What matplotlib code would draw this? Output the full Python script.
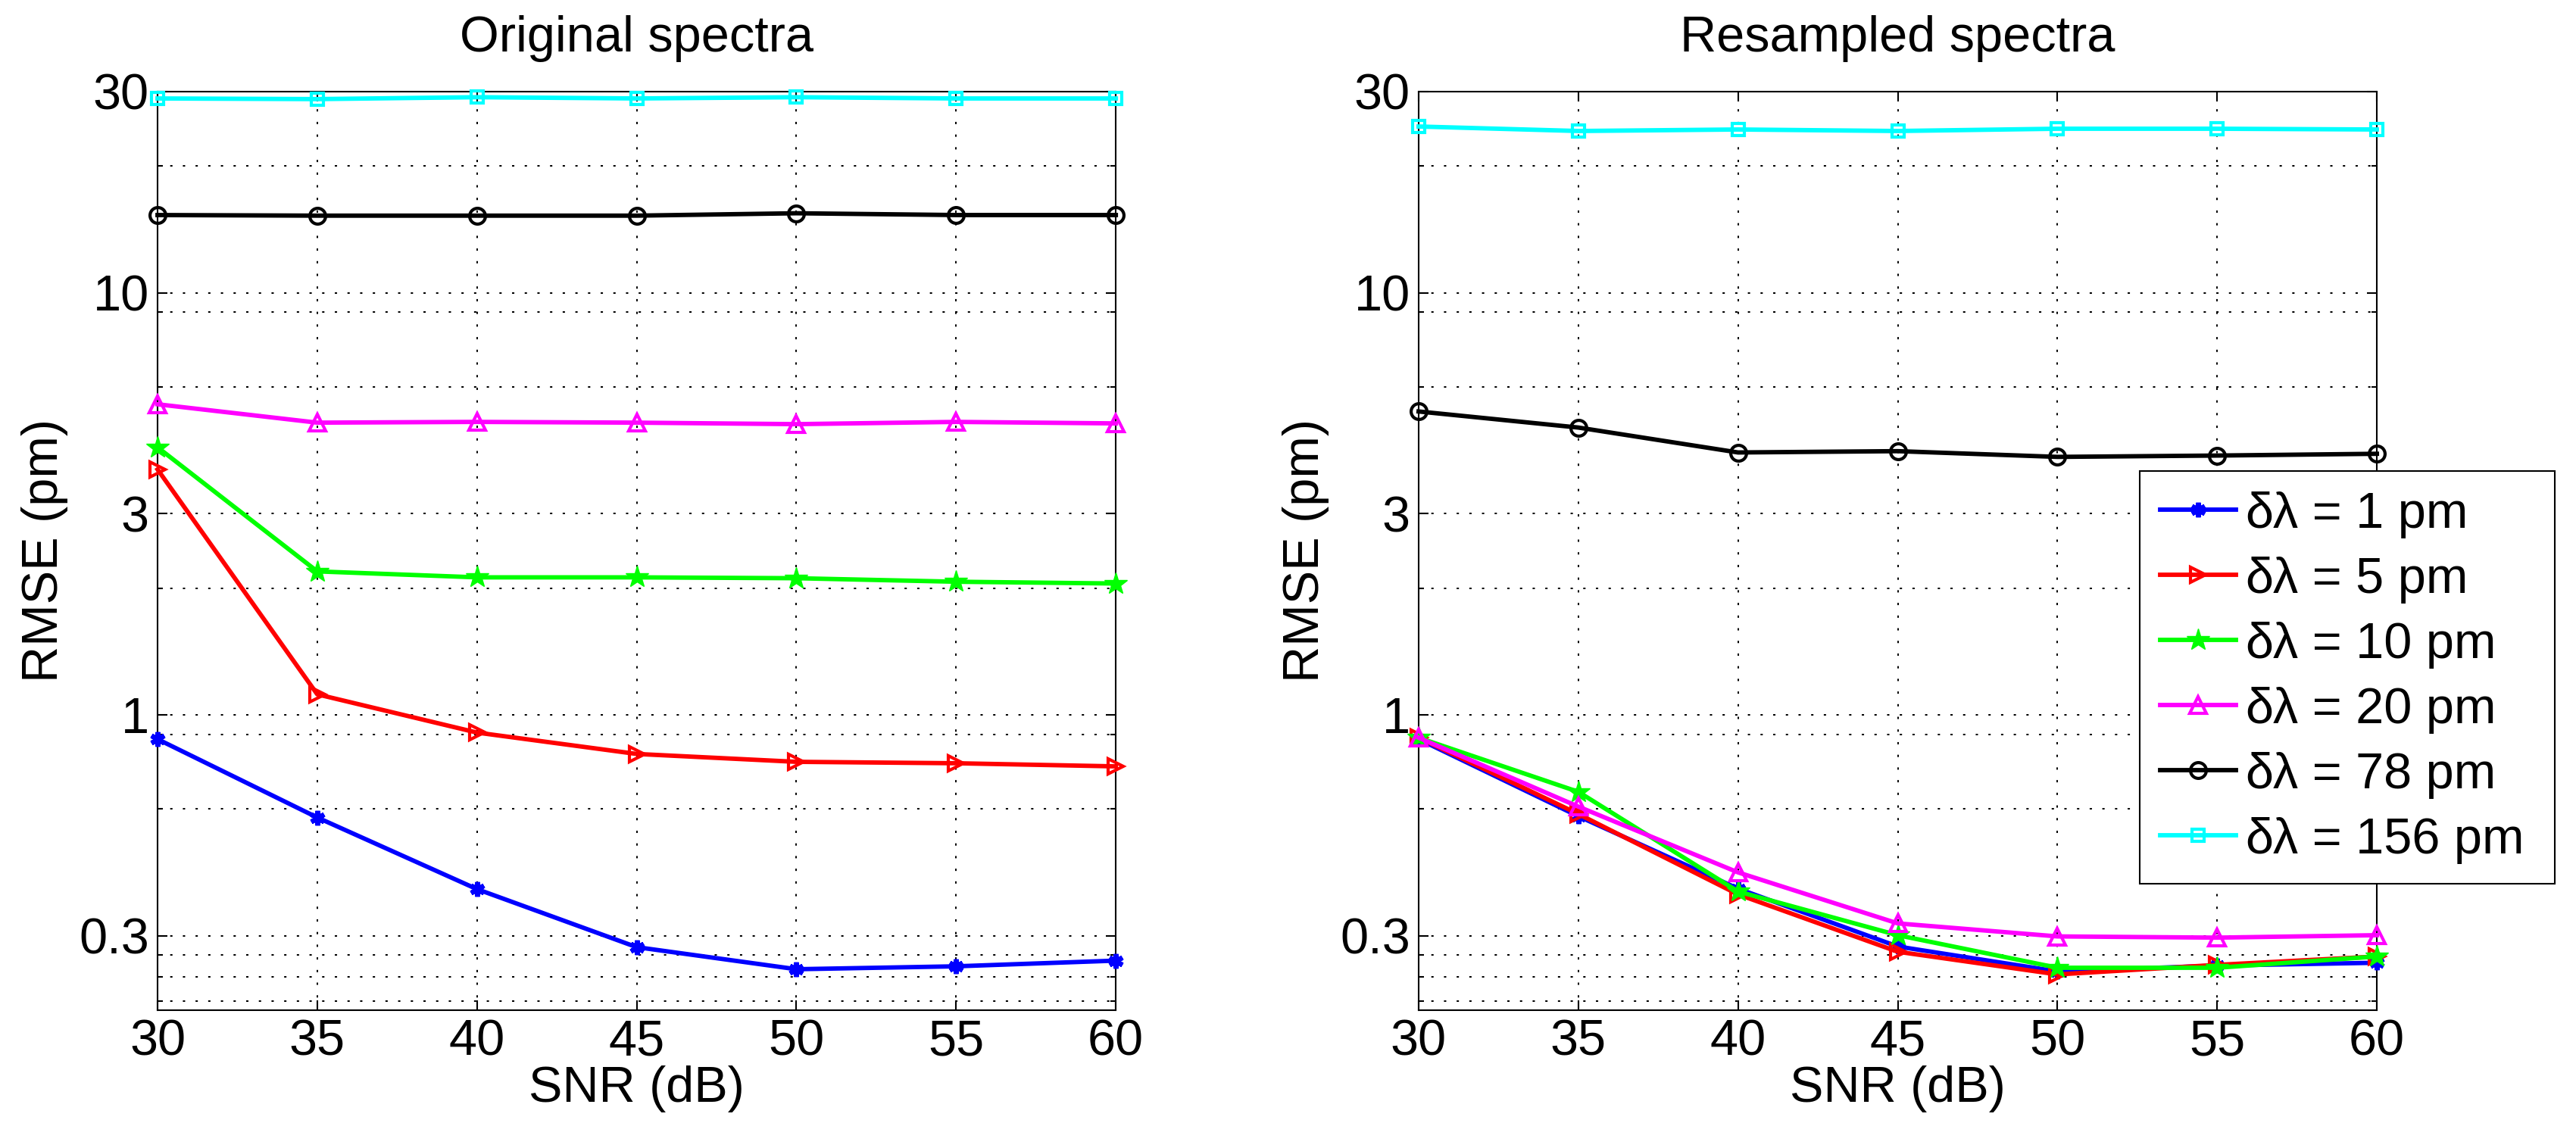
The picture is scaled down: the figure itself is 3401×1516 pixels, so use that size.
import matplotlib
matplotlib.use("Agg")
import matplotlib.pyplot as plt
from matplotlib.ticker import FixedLocator, NullFormatter

plt.rcParams['font.family'] = ['Liberation Sans', 'DejaVu Sans']

# SNR values (dB)
snr = [30, 35, 40, 45, 50, 55, 60]

# legend labels (a trailing thin space widens the box like the original)
pad = '\u2009'
labels = ['δλ = 1 pm' + pad, 'δλ = 5 pm' + pad, 'δλ = 10 pm' + pad,
          'δλ = 20 pm' + pad, 'δλ = 78 pm' + pad, 'δλ = 156 pm' + pad]

# RMSE (pm), original spectra
orig_1 = [0.877, 0.572, 0.387, 0.282, 0.250, 0.254, 0.262]
orig_5 = [3.82, 1.12, 0.909, 0.809, 0.775, 0.769, 0.756]
orig_10 = [4.31, 2.19, 2.12, 2.12, 2.11, 2.07, 2.05]
orig_20 = [5.45, 4.93, 4.95, 4.93, 4.89, 4.95, 4.91]
orig_78 = [15.3, 15.25, 15.25, 15.25, 15.45, 15.3, 15.3]
orig_156 = [28.9, 28.8, 29.1, 28.9, 29.1, 28.9, 28.9]

# RMSE (pm), resampled spectra
res_1 = [0.877, 0.576, 0.388, 0.283, 0.247, 0.255, 0.259]
res_5 = [0.884, 0.583, 0.376, 0.275, 0.243, 0.256, 0.268]
res_10 = [0.884, 0.658, 0.382, 0.301, 0.252, 0.252, 0.268]
res_20 = [0.884, 0.607, 0.424, 0.321, 0.299, 0.297, 0.301]
res_78 = [5.24, 4.80, 4.19, 4.22, 4.09, 4.12, 4.16]
res_156 = [24.8, 24.2, 24.4, 24.2, 24.5, 24.5, 24.4]

yticks = [0.3, 1, 3, 10, 30]
ytick_labels = ['0.3', '1', '3', '10', '30']
yminor = [0.21, 0.24, 0.27, 0.6, 0.9, 2, 6, 9, 20]

colors = ['#0000ff', '#ff0000', '#00ff00', '#ff00ff', '#000000', '#00ffff']
markers = [(6, 2, 0), '>', '*', '^', 'o', 's']
msizes = [14, 15, 22, 16, 15, 12]
mews = [4.5, 3, 1, 3, 3, 3]
filled = [True, False, True, False, False, False]

FS = 48
grid_style = dict(color='black', linewidth=1.45, linestyle=(0, (1.5, 6.8)))

fig = plt.figure(figsize=(34.01, 15.16), dpi=100)
ax1 = fig.add_axes([0.06116, 0.1201, 0.3720, 0.8001])
ax2 = fig.add_axes([0.5507, 0.1201, 0.3720, 0.8001])


def draw(ax, series, title):
    handles = []
    for i, vals in enumerate(series):
        fc = colors[i] if filled[i] else 'none'
        h, = ax.plot(snr, vals, color=colors[i], linewidth=4.2,
                     marker=markers[i], markersize=msizes[i],
                     markeredgewidth=mews[i], markerfacecolor=fc,
                     markeredgecolor=colors[i], clip_on=False, zorder=3 + i)
        handles.append(h)
    ax.set_yscale('log')
    ax.set_xlim(30, 60)
    ax.set_ylim(0.2, 30)
    ax.set_xticks(snr)
    ax.set_xticklabels([str(s) for s in snr])
    ax.yaxis.set_major_locator(FixedLocator(yticks))
    ax.set_yticklabels(ytick_labels)
    ax.yaxis.set_minor_locator(FixedLocator(yminor))
    ax.yaxis.set_minor_formatter(NullFormatter())
    ax.tick_params(which='major', direction='in', length=9.5, width=1.5,
                   top=True, right=True, labelsize=FS, pad=8)
    ax.tick_params(which='minor', direction='in', length=5, width=1.5,
                   top=True, right=True)
    ax.grid(True, which='major', **grid_style)
    ax.grid(True, which='minor', axis='y', **grid_style)
    for sp in ax.spines.values():
        sp.set_linewidth(1.5)
        sp.set_zorder(2.5)
    ax.set_title(title, fontsize=FS, pad=38)
    ax.set_xlabel('SNR (dB)', fontsize=FS, labelpad=0)
    ax.set_ylabel('RMSE (pm)', fontsize=FS, labelpad=10)
    return handles


draw(ax1, [orig_1, orig_5, orig_10, orig_20, orig_78, orig_156], 'Original spectra')
hs = draw(ax2, [res_1, res_5, res_10, res_20, res_78, res_156], 'Resampled spectra')

leg = fig.legend(hs, labels, loc='upper left',
                 bbox_to_anchor=(2825 / 3401, 1 - 622 / 1516),
                 bbox_transform=fig.transFigure, fontsize=FS,
                 fancybox=False, framealpha=1, edgecolor='black',
                 handlelength=1.5, handletextpad=0.2, borderpad=0.4,
                 labelspacing=0.36, borderaxespad=0)
leg.get_frame().set_linewidth(1.5)

fig.savefig('out.png', dpi=100)
